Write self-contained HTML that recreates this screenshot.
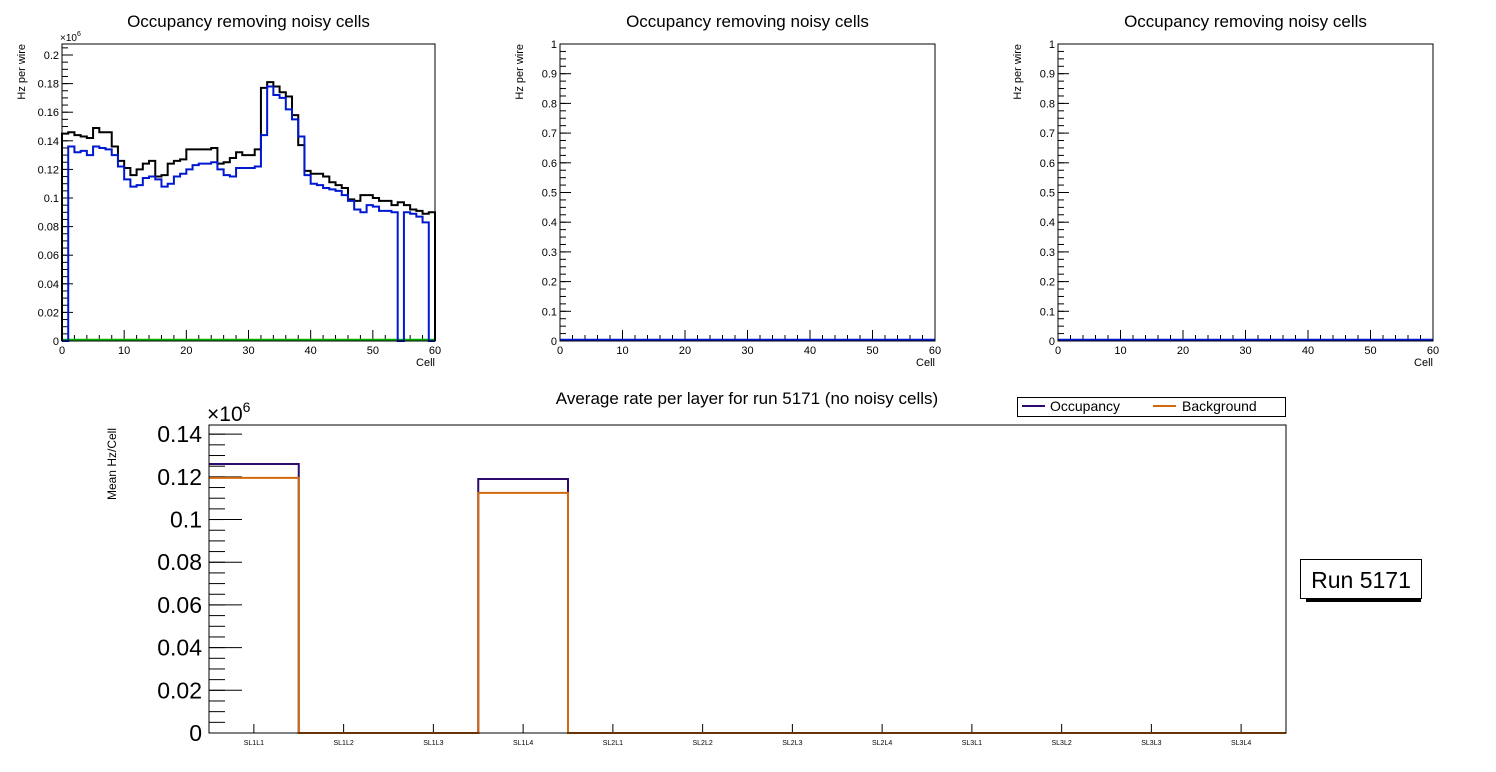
<!DOCTYPE html>
<html><head><meta charset="utf-8">
<style>
body{margin:0;background:#fff;}
svg{display:block;font-family:"Liberation Sans",sans-serif;}
</style></head>
<body>
<svg id="c" width="1496" height="772" viewBox="0 0 1496 772"></svg>
<script>
// Top-left panel data (values in units of 1e6 Hz)
const cellEdges = [0,60];
const occValues = [0.145,0.146,0.144,0.143,0.142,0.149,0.146,0.146,0.136,0.126,0.121,0.116,0.120,0.124,0.126,0.115,0.116,0.124,0.126,0.127,0.134,0.134,0.134,0.134,0.135,0.124,0.125,0.128,0.132,0.130,0.130,0.134,0.177,0.181,0.178,0.174,0.171,0.158,0.137,0.119,0.117,0.117,0.115,0.111,0.109,0.107,0.099,0.098,0.102,0.102,0.100,0.098,0.098,0.095,0.097,0.095,0.092,0.091,0.089,0.090];
const bkgValues = [0,0.136,0.132,0.133,0.130,0.136,0.135,0.134,0.130,0.122,0.113,0.108,0.109,0.114,0.115,0.113,0.108,0.110,0.115,0.117,0.120,0.123,0.124,0.124,0.125,0.120,0.116,0.115,0.121,0.121,0.121,0.122,0.144,0.178,0.172,0.170,0.162,0.155,0.143,0.116,0.110,0.109,0.107,0.106,0.105,0.102,0.098,0.092,0.090,0.095,0.094,0.091,0.091,0.090,0,0.090,0.089,0.087,0.083,0];
const topYTicks1 = [0,0.02,0.04,0.06,0.08,0.1,0.12,0.14,0.16,0.18,0.2];
const topYTicksEmpty = [0,0.1,0.2,0.3,0.4,0.5,0.6,0.7,0.8,0.9,1];
const xTicks = [0,10,20,30,40,50,60];
// Bottom chart data
const layers = ["SL1L1","SL1L2","SL1L3","SL1L4","SL2L1","SL2L2","SL2L3","SL2L4","SL3L1","SL3L2","SL3L3","SL3L4"];
const meanOcc = [0.126,0,0,0.119,0,0,0,0,0,0,0,0];
const meanBkg = [0.1195,0,0,0.1125,0,0,0,0,0,0,0,0];
const bottomYTicks = [0,0.02,0.04,0.06,0.08,0.1,0.12,0.14];

const NS="http://www.w3.org/2000/svg";
const svg=document.getElementById('c');
function mk(tag,attrs,parent,text){const e=document.createElementNS(NS,tag);for(const k in attrs)e.setAttribute(k,attrs[k]);if(text!==undefined)e.textContent=text;(parent||svg).appendChild(e);return e;}
function fmt(v){return String(+v.toFixed(4));}

function stepPath(vals,xs,ys,xmin,xmax){
  const n=vals.length,w=(xmax-xmin)/n;let d='M'+xs(xmin)+','+ys(0);
  for(let i=0;i<n;i++){d+=' L'+xs(xmin+i*w)+','+ys(vals[i])+' L'+xs(xmin+(i+1)*w)+','+ys(vals[i]);}
  d+=' L'+xs(xmax)+','+ys(0);return d;
}

function topPanel(x0,x1,y0,y1,ymax,yticks,minorStep,name,series,exp){
  const g=mk('g',{});
  
  
  const xs=v=>x0+(v-cellEdges[0])/(cellEdges[1]-cellEdges[0])*(x1-x0);
  const ys=v=>y1-v/ymax*(y1-y0);
  const cx=(x0+x1)/2;
  const t=mk('text',{x:cx,y:27,'font-size':17,'text-anchor':'middle'},g,'Occupancy removing noisy cells');
  
  for(let v=0;v<=ymax+1e-9;v+=minorStep){mk('line',{x1:x0,x2:x0+6,y1:ys(v),y2:ys(v),stroke:'#000','stroke-width':1},g);}
  for(const v of yticks){
    mk('line',{x1:x0,x2:x0+11,y1:ys(v),y2:ys(v),stroke:'#000','stroke-width':1},g);
    const l=mk('text',{x:x0-3,y:ys(v)+4,'font-size':11,'text-anchor':'end'},g,fmt(v));
    
  }
  for(let v=0;v<=60;v+=2){const big=v%10===0;mk('line',{x1:xs(v),x2:xs(v),y1:y1,y2:y1-(big?11:6),stroke:'#000','stroke-width':1},g);}
  for(const v of xTicks){
    const l=mk('text',{x:xs(v),y:y1+13,'font-size':11,'text-anchor':'middle'},g,String(v));
    
  }
  const xt=mk('text',{x:x1,y:y1+25,'font-size':11,'text-anchor':'end'},g,'Cell');
  
  const yt=mk('text',{x:0,y:0,'font-size':11,'text-anchor':'end',transform:`translate(${x0-37},${y0}) rotate(-90)`},g,'Hz per wire');
  
  if(exp){const e=mk('text',{x:x0-2,y:y0-3,'font-size':10},g,'×10');mk('tspan',{dy:-5,'font-size':7},e,'6');}
  for(const s of series){
    const p=mk('path',{d:s.d(xs,ys),fill:'none',stroke:s.c,'stroke-width':s.w||2},g);
    
  }
  mk('rect',{x:x0,y:y0,width:x1-x0,height:y1-y0,fill:'none',stroke:'#000','stroke-width':1},g);
}

topPanel(62,435,44,341,0.2077,topYTicks1,0.005,'panel-occupancy-1',[
  {n:'background-zero-line',c:'#00b000',w:2.5,d:(xs,ys)=>'M'+xs(0)+','+(ys(0)-1)+' L'+xs(60)+','+(ys(0)-1)},
  {n:'occupancy-histogram',c:'#000',d:(xs,ys)=>stepPath(occValues,xs,ys,0,60)},
  {n:'noise-removed-histogram',c:'#0018d0',d:(xs,ys)=>stepPath(bkgValues,xs,ys,0,60)}
],true);
topPanel(560,935,44,341,1,topYTicksEmpty,0.025,'panel-occupancy-2',[
  {n:'occupancy-histogram',c:'#0018d0',w:2.5,d:(xs,ys)=>'M'+xs(0)+','+(ys(0)-1)+' L'+xs(60)+','+(ys(0)-1)}
],false);
topPanel(1058,1433,44,341,1,topYTicksEmpty,0.025,'panel-occupancy-3',[
  {n:'occupancy-histogram',c:'#0018d0',w:2.5,d:(xs,ys)=>'M'+xs(0)+','+(ys(0)-1)+' L'+xs(60)+','+(ys(0)-1)}
],false);

// Bottom chart
(function(){
  const x0=209,x1=1286,y0=425,y1=733,ymax=0.1443;
  const g=mk('g',{});
  
  
  const bw=(x1-x0)/layers.length;
  const xs=i=>x0+i*bw;
  const ys=v=>y1-v/ymax*(y1-y0);
  const t=mk('text',{x:747,y:404,'font-size':17,'text-anchor':'middle'},g,'Average rate per layer for run 5171 (no noisy cells)');
  
  for(let v=0;v<=ymax;v+=0.005){mk('line',{x1:x0,x2:x0+16,y1:ys(v),y2:ys(v),stroke:'#000'},g);}
  for(const v of bottomYTicks){
    mk('line',{x1:x0,x2:x0+33,y1:ys(v),y2:ys(v),stroke:'#000'},g);
    const l=mk('text',{x:x0-7,y:ys(v)+8,'font-size':23,'text-anchor':'end'},g,fmt(v));
    
  }
  const e=mk('text',{x:x0-2,y:y0-4,'font-size':21},g,'×10');mk('tspan',{dy:-9,'font-size':14},e,'6');
  const yt=mk('text',{x:0,y:0,'font-size':12,'text-anchor':'end',transform:`translate(116,${y0+3}) rotate(-90)`},g,'Mean Hz/Cell');
  
  layers.forEach((n,i)=>{
    const cx=xs(i)+bw/2;
    mk('line',{x1:cx,x2:cx,y1:y1,y2:y1-9,stroke:'#000'},g);
    const l=mk('text',{x:cx,y:y1+12,'font-size':7,'text-anchor':'middle'},g,n);
    
  });
  function hp(vals){let d='M'+xs(0)+','+ys(vals[0]);for(let i=0;i<vals.length;i++){d+=' L'+xs(i)+','+ys(vals[i])+' L'+xs(i+1)+','+ys(vals[i]);}return d;}
  const po=mk('path',{d:hp(meanOcc),fill:'none',stroke:'#2e0a6e','stroke-width':2},g);
  
  const pb=mk('path',{d:hp(meanBkg),fill:'none',stroke:'#d0690e','stroke-width':2},g);
  
  mk('rect',{x:x0,y:y0,width:x1-x0,height:y1-y0,fill:'none',stroke:'#000'},g);
  const lg=mk('g',{},g);
  
  mk('rect',{x:1017.5,y:397.5,width:268,height:19,fill:'#fff',stroke:'#000'},lg);
  mk('line',{x1:1022,x2:1045,y1:406,y2:406,stroke:'#2e0a6e','stroke-width':2},lg);
  const l1=mk('text',{x:1050,y:411,'font-size':14},lg,'Occupancy');
  
  mk('line',{x1:1153,x2:1176,y1:406,y2:406,stroke:'#d0690e','stroke-width':2},lg);
  const l2=mk('text',{x:1182,y:411,'font-size':14},lg,'Background');
  
})();
const rb=mk('g',{});


mk('rect',{x:1306,y:597,width:115,height:5,fill:'#000'},rb);
mk('rect',{x:1300.5,y:559.5,width:121,height:39,fill:'#fff',stroke:'#000'},rb);
mk('text',{x:1361,y:588,'font-size':23,'text-anchor':'middle'},rb,'Run 5171');
</script>
</body></html>
